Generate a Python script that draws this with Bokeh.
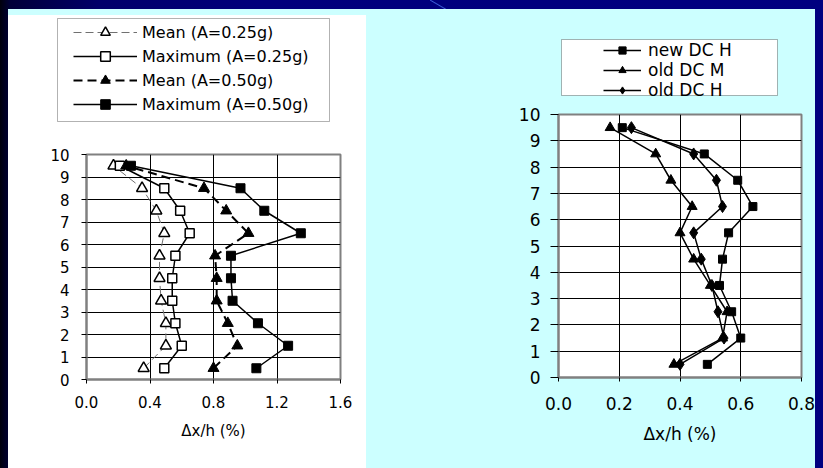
from bokeh.plotting import figure
from bokeh.models import (Range1d, FixedTicker, NumeralTickFormatter, Legend,
                          LegendItem, BoxAnnotation, Spacer)
from bokeh.layouts import row, column
from bokeh.embed import file_html
from bokeh.resources import INLINE

# storey mid-heights (y axis)
storey = [0.5, 1.5, 2.5, 3.5, 4.5, 5.5, 6.5, 7.5, 8.5, 9.5]

# left chart: interstorey drift ratios (%)
mean_025 = [0.36, 0.50, 0.50, 0.47, 0.46, 0.46, 0.49, 0.44, 0.35, 0.17]
max_025 = [0.49, 0.60, 0.56, 0.54, 0.54, 0.56, 0.65, 0.59, 0.49, 0.21]
mean_050 = [0.80, 0.95, 0.89, 0.82, 0.82, 0.81, 1.02, 0.88, 0.74, 0.25]
max_050 = [1.07, 1.27, 1.08, 0.92, 0.91, 0.91, 1.35, 1.12, 0.97, 0.28]

# right chart: design comparison
new_dc_h = [0.49, 0.60, 0.57, 0.53, 0.54, 0.56, 0.64, 0.59, 0.48, 0.21]
old_dc_m = [0.38, 0.54, 0.555, 0.50, 0.445, 0.40, 0.44, 0.37, 0.32, 0.17]
old_dc_h = [0.40, 0.545, 0.525, 0.505, 0.47, 0.445, 0.54, 0.52, 0.445, 0.24]

left_xticks = [0.0, 0.4, 0.8, 1.2, 1.6]
right_xticks = [0.0, 0.2, 0.4, 0.6, 0.8]
yticks = list(range(0, 11))
x_title = "Δx/h (%)"

CYAN = "#CCFFFF"
FONT = "DejaVu Sans"
PAGE_BG = ", ".join([
    "linear-gradient(#ffffff, #ffffff) 8px 15px / 358px 453px no-repeat",
    "linear-gradient(" + CYAN + ", " + CYAN + ") 8px 9px / 807px 459px no-repeat",
    "linear-gradient(to top right, rgba(0,0,0,0) 46%, #3b5bd6 50%, "
    "rgba(0,0,0,0) 54%) 430px 0px / 24px 14px no-repeat",
    "linear-gradient(90deg, #00000c 0px, #000038 10px, #00006a 100px, "
    "#00007c 260px, #000080 100%)",
])

# line / marker styles per series
STY_MEAN_025 = dict(line=dict(line_color="#707070", line_width=1, line_dash="8 4"),
                    mark=dict(marker="triangle", size=11, fill_color="white",
                              line_color="black", line_width=1.5))
STY_MAX_025 = dict(line=dict(line_color="black", line_width=1.5),
                   mark=dict(marker="square", size=9, fill_color="white",
                             line_color="black", line_width=1.5))
STY_MEAN_050 = dict(line=dict(line_color="black", line_width=2, line_dash="9 5"),
                    mark=dict(marker="triangle", size=11, fill_color="black",
                              line_color="black"))
STY_MAX_050 = dict(line=dict(line_color="black", line_width=1.5),
                   mark=dict(marker="square", size=9, fill_color="black",
                             line_color="black"))
STY_NEW_H = dict(line=dict(line_color="black", line_width=1.5),
                 mark=dict(marker="square", size=8, fill_color="black", line_color="black"))
STY_OLD_M = dict(line=dict(line_color="black", line_width=1.5),
                 mark=dict(marker="triangle", size=10, fill_color="black", line_color="black"))
STY_OLD_H = dict(line=dict(line_color="black", line_width=1.5),
                 mark=dict(marker="diamond", size=12, fill_color="black", line_color="black"))


def style(p, xticks, font_px, x_out, x_standoff, y_out, y_standoff, title_standoff):
    p.xaxis.ticker = FixedTicker(ticks=xticks)
    p.yaxis.ticker = FixedTicker(ticks=yticks)
    p.xgrid.ticker = FixedTicker(ticks=xticks)
    p.ygrid.ticker = FixedTicker(ticks=yticks)
    p.xaxis.formatter = NumeralTickFormatter(format="0.0")
    p.xaxis.axis_label = x_title
    for ax in (p.xaxis, p.yaxis):
        ax.axis_line_color = "#808080"
        ax.axis_line_width = 2
        ax.major_tick_line_color = "black"
        ax.minor_tick_line_color = None
        ax.major_tick_in = 0
        ax.major_label_text_font = FONT
        ax.major_label_text_font_size = font_px
        ax.major_label_text_color = "black"
        ax.axis_label_text_font = FONT
        ax.axis_label_text_font_size = font_px
        ax.axis_label_text_font_style = "normal"
        ax.axis_label_text_color = "black"
    p.xaxis.major_tick_out = x_out
    p.xaxis.major_label_standoff = x_standoff
    p.xaxis.axis_label_standoff = title_standoff
    p.yaxis.major_tick_out = y_out
    p.yaxis.major_label_standoff = y_standoff
    for g in (p.xgrid, p.ygrid):
        g.grid_line_color = "black"
        g.grid_line_width = 1


def series(p, xs, sty):
    p.line(xs, storey, **sty["line"])
    p.scatter(xs, storey, **sty["mark"])


def legend_panel(width, height, fill, entries, box, loc, glyph_w, row_h, standoff, font_px):
    """Key drawn in its own strip above a chart. The strip's ranges lie away
    from the data, so its series only feed the key samples."""
    lf = figure(width=width, height=height, x_range=Range1d(-3, -2), y_range=Range1d(-3, -2),
                x_axis_type=None, y_axis_type=None, output_backend="svg",
                toolbar_location=None, min_border=0, min_border_left=0,
                min_border_right=0, min_border_top=0, min_border_bottom=0,
                background_fill_color=fill, border_fill_color=fill,
                outline_line_color=None)
    lf.xgrid.visible = False
    lf.ygrid.visible = False
    left, right, top, bottom = box
    lf.add_layout(BoxAnnotation(left=left, right=right, top=top, bottom=bottom,
                                left_units="canvas", right_units="canvas",
                                top_units="canvas", bottom_units="canvas",
                                fill_color="white", fill_alpha=1.0,
                                line_color="black", line_width=1))
    items = []
    for label, xs, sty in entries:
        ln = lf.line(xs, storey, **sty["line"])
        mk = lf.scatter(xs, storey, **sty["mark"])
        items.append(LegendItem(label=label, renderers=[ln, mk]))
    lf.add_layout(Legend(items=items, location=loc, orientation="vertical",
                         glyph_width=glyph_w, glyph_height=row_h, label_height=row_h,
                         label_standoff=standoff, spacing=0, padding=0, margin=0,
                         border_line_color=None, background_fill_alpha=0,
                         label_text_font=FONT, label_text_font_size=font_px,
                         label_text_color="black"))
    return lf


# ---------------- left chart ----------------
lf1 = legend_panel(358, 125, "white",
                   [("Mean (A=0.25g)", mean_025, STY_MEAN_025),
                    ("Maximum (A=0.25g)", max_025, STY_MAX_025),
                    ("Mean (A=0.50g)", mean_050, STY_MEAN_050),
                    ("Maximum (A=0.50g)", max_050, STY_MAX_050)],
                   box=(49, 321, 3, 106), loc=(65, 24), glyph_w=64, row_h=24,
                   standoff=5, font_px="16px")

p1 = figure(width=358, height=328, x_range=Range1d(0, 1.6), y_range=Range1d(0, 10),
            output_backend="svg", toolbar_location=None,
            min_border_left=78, min_border_right=26, min_border_top=14,
            min_border_bottom=89, background_fill_color="white",
            border_fill_color="white", outline_line_color="#808080",
            outline_line_width=2)
style(p1, left_xticks, "15px", 4, 12, 5, 12, 11)
series(p1, mean_025, STY_MEAN_025)
series(p1, max_025, STY_MAX_025)
series(p1, mean_050, STY_MEAN_050)
series(p1, max_050, STY_MAX_050)

# ---------------- right chart ----------------
lf2 = legend_panel(449, 96, None,
                   [("new DC H", new_dc_h, STY_NEW_H),
                    ("old DC M", old_dc_m, STY_OLD_M),
                    ("old DC H", old_dc_h, STY_OLD_H)],
                   box=(195, 411, 30, 86), loc=(237, 5), glyph_w=38, row_h=18,
                   standoff=7, font_px="17px")

p2 = figure(width=449, height=363, x_range=Range1d(0, 0.8), y_range=Range1d(0, 10),
            output_backend="svg", toolbar_location=None,
            min_border_left=192, min_border_right=14, min_border_top=9,
            min_border_bottom=91, background_fill_color="white",
            border_fill_color=None, outline_line_color="#808080",
            outline_line_width=2)
style(p2, right_xticks, "17px", 4, 15, 8, 10, 11)
series(p2, new_dc_h, STY_NEW_H)
series(p2, old_dc_m, STY_OLD_M)
series(p2, old_dc_h, STY_OLD_H)

# ---------------- page layout ----------------
# each figure sits in its own row so the column does not line up their frames
root = column(
    Spacer(width=823, height=9),
    row(Spacer(width=8, height=459),
        column(Spacer(width=358, height=6), row(lf1), row(p1)),
        column(row(lf2), row(p2))),
    width=823, height=468, styles={"background": PAGE_BG},
)

open("out.html", "w").write(file_html(root, INLINE))
